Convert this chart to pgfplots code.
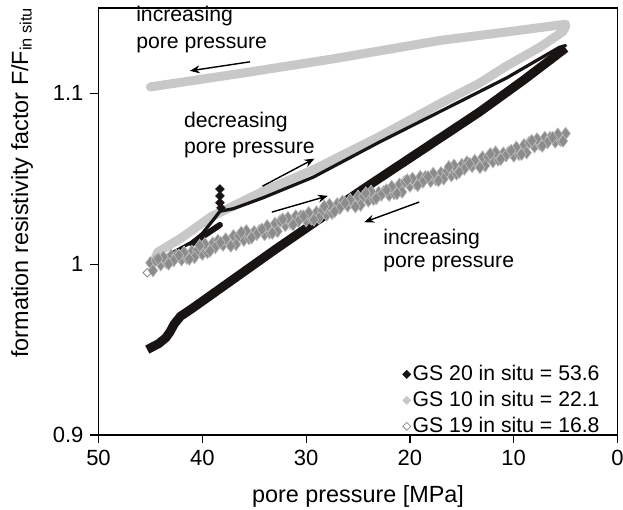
\documentclass[border=0pt]{standalone}
\usepackage{fontspec}
\setmainfont{Liberation Sans}
\usepackage{pgfplots}
\pgfplotsset{compat=1.18}
\usetikzlibrary{arrows.meta}
\definecolor{lgray}{RGB}{200,200,200}
\definecolor{mgray}{RGB}{140,140,140}
\definecolor{egray}{RGB}{190,190,190}
\definecolor{dblack}{RGB}{25,20,20}
\newcommand{\annfont}{\fontsize{10.6}{12}\selectfont}
\begin{document}
\begin{tikzpicture}
\begin{axis}[
  scale only axis, width=259.5pt, height=213.5pt,
  xmin=0, xmax=50, ymin=0.9, ymax=1.15, x dir=reverse,
  xtick={0,10,20,30,40,50}, ytick={0.9,1,1.1},
  yticklabels={0.9,1,1.1},
  tick pos=left, tick align=outside, major tick length=4pt,
  /pgf/number format/assume math mode=true,
  ticklabel style={font=\fontsize{11}{13}\selectfont},
  axis line style={line width=0.6pt},
  tick style={line width=0.6pt, black},
  xlabel={pore pressure [MPa]},
  ylabel={formation resistivity factor F/F\textsubscript{in situ}},
  label style={font=\fontsize{11.7}{14}\selectfont},
  xlabel style={at={(axis cs:25,0.9)}, anchor=base, yshift=-33.5pt},
  ylabel style={at={(axis cs:57.36,1.048)}, anchor=center},
  clip=false,
  legend cell align=left,
  legend image code/.code={\draw[#1] plot coordinates {(0.15cm,0cm)};},
  legend style={at={(axis cs:1.5,0.8983)}, anchor=south east, draw=none, fill=none,
    font=\annfont, row sep=1.8pt, inner sep=0pt, nodes={inner sep=1pt}},
]
\coordinate (bl) at (axis cs:50,0.9);
\coordinate (tr) at (axis cs:0,1.15);

% GS 10 (light gray)
\addplot[lgray, line width=4.5pt, line cap=round, line join=round, forget plot] coordinates {
(44.5,1.004) (44.3,1.007) (42.0,1.0155) (39.2,1.0276) (34.1,1.0428) (29.3,1.0553)
(23.0,1.0745) (17.1,1.094) (13.3,1.106) (10.7,1.116) (7.5,1.127) (5.3,1.136) (5.0,1.139)
(5.0,1.1405) (10.0,1.1365) (17.1,1.131) (27.4,1.1202) (36.0,1.112) (45.0,1.1038)
};

% GS 20 (black) lower branch
\addplot[dblack, line width=4.5pt, line join=round, forget plot] coordinates {
(45.3,0.950) (44.2,0.9535) (43.5,0.957) (43.1,0.9605) (42.7,0.965) (42.1,0.9695)
(41.0,0.974) (33.0,1.0085) (24.5,1.044) (13.3,1.0891) (9.0,1.108) (5.0,1.1265)
};
% GS 20 return branch
\addplot[dblack, line width=1.6pt, line join=round, line cap=round, forget plot] coordinates {
(5.0,1.128) (5.6,1.127) (10.7,1.109) (13.3,1.101) (22.9,1.0716) (29.3,1.051)
(34.1,1.039) (37.0,1.0325) (38.3,1.031) (38.8,1.027) (40.0,1.018) (41.0,1.013) (42.5,1.008) (44.0,1.003)
};
\addplot[dblack, line width=3pt, line cap=round, forget plot] coordinates {
(38.3,1.023) (41.0,1.012)
};
\addplot[only marks, mark=square*, mark size=1.5pt, mark options={rotate=45, dblack}, forget plot] coordinates {
(38.3,1.044) (38.3,1.040) (38.3,1.036) (38.2,1.033)
};

% GS 19 (open diamonds, dense band)
\addplot[only marks, mark=diamond*, mark size=3.2pt, mark options={draw=egray, fill=mgray, line width=0.3pt}, forget plot] coordinates {
(45,1.0008) (44,0.9997) (43,1.0051) (42,1.0026) (41,1.0075) (40,1.0059) (39,1.0123)
(38,1.0112) (37,1.0166) (36,1.0141) (35,1.0190) (34,1.0174) (33,1.0238) (32,1.0227)
(31,1.0282) (30,1.0256) (29,1.0305) (28,1.0289) (27,1.0353) (26,1.0342) (25,1.0397)
(24,1.0371) (23,1.0420) (22,1.0404) (21,1.0468) (20,1.0458) (19,1.0512) (18,1.0486)
(17,1.0535) (16,1.0519) (15,1.0583) (14,1.0573) (13,1.0627) (12,1.0601) (11,1.0650)
(10,1.0634) (9,1.0699) (8,1.0688) (7,1.0742) (6,1.0716) (5,1.0765)
(5.5,1.0726) (6.5,1.0741) (7.5,1.0703) (8.5,1.0713) (9.5,1.0644) (10.5,1.0655)
(11.5,1.0611) (12.5,1.0627) (13.5,1.0588) (14.5,1.0598) (15.5,1.0529) (16.5,1.0540)
(17.5,1.0496) (18.5,1.0512) (19.5,1.0473) (20.5,1.0483) (21.5,1.0414) (22.5,1.0425)
(23.5,1.0381) (24.5,1.0397) (25.5,1.0357) (26.5,1.0368) (27.5,1.0299) (28.5,1.0310)
(29.5,1.0266) (30.5,1.0282) (31.5,1.0242) (32.5,1.0253) (33.5,1.0184) (34.5,1.0195)
(35.5,1.0151) (36.5,1.0166) (37.5,1.0127) (38.5,1.0138) (39.5,1.0069) (40.5,1.0080)
(41.5,1.0036) (42.5,1.0051) (43.5,1.0012) (44.5,1.0023)
(44.75,0.9963) (43.75,1.0042) (42.75,1.0021) (41.75,1.0070) (40.75,1.0040) (39.75,1.0119)
(38.75,1.0098) (37.75,1.0147) (36.75,1.0116) (35.75,1.0195) (34.75,1.0175) (33.75,1.0224)
(32.75,1.0193) (31.75,1.0272) (30.75,1.0251) (29.75,1.0301) (28.75,1.0270) (27.75,1.0349)
(26.75,1.0328) (25.75,1.0377) (24.75,1.0346) (23.75,1.0426) (22.75,1.0405) (21.75,1.0454)
(20.75,1.0423) (19.75,1.0502) (18.75,1.0482) (17.75,1.0531) (16.75,1.0500) (15.75,1.0579)
(14.75,1.0558) (13.75,1.0607) (12.75,1.0577) (11.75,1.0656) (10.75,1.0635) (9.75,1.0684)
(8.75,1.0653) (7.75,1.0733) (6.75,1.0712) (5.75,1.0761)
(44.25,1.0032) (43.25,1.0002) (42.25,1.0051) (41.25,1.0030) (40.25,1.0109) (39.25,1.0078)
(38.25,1.0127) (37.25,1.0107) (36.25,1.0186) (35.25,1.0155) (34.25,1.0204) (33.25,1.0183)
(32.25,1.0263) (31.25,1.0232) (30.25,1.0281) (29.25,1.0260) (28.25,1.0339) (27.25,1.0309)
(26.25,1.0358) (25.25,1.0337) (24.25,1.0416) (23.25,1.0385) (22.25,1.0434) (21.25,1.0414)
(20.25,1.0493) (19.25,1.0462) (18.25,1.0511) (17.25,1.0490) (16.25,1.0570) (15.25,1.0539)
(14.25,1.0588) (13.25,1.0567) (12.25,1.0646) (11.25,1.0615) (10.25,1.0665) (9.25,1.0644)
(8.25,1.0723) (7.25,1.0692) (6.25,1.0741) (5.25,1.0721)
};
\addplot[only marks, mark=square, mark size=1.5pt, mark options={rotate=45, draw=mgray, fill=white, line width=0.5pt}, forget plot] coordinates {
(45.3,0.9950)
};

% legend
\addlegendimage{only marks, mark=square*, mark size=1.4pt, mark options={rotate=45, dblack}}
\addlegendentry{GS 20 in situ = 53.6}
\addlegendimage{only marks, mark=square*, mark size=1.4pt, mark options={rotate=45, lgray}}
\addlegendentry{GS 10 in situ = 22.1}
\addlegendimage{only marks, mark=square, mark size=1.4pt, mark options={rotate=45, draw=mgray, fill=white}}
\addlegendentry{GS 19 in situ = 16.8}

% annotations
\node[anchor=base west, font=\annfont, inner sep=0pt] at (axis cs:46.4,1.1419) {increasing};
\node[anchor=base west, font=\annfont, inner sep=0pt] at (axis cs:46.4,1.1261) {pore pressure};
\node[anchor=base west, font=\annfont, inner sep=0pt] at (axis cs:41.8,1.0798) {decreasing};
\node[anchor=base west, font=\annfont, inner sep=0pt] at (axis cs:41.8,1.0651) {pore pressure};
\node[anchor=base west, font=\annfont, inner sep=0pt] at (axis cs:22.6,1.0117) {increasing};
\node[anchor=base west, font=\annfont, inner sep=0pt] at (axis cs:22.6,0.9982) {pore pressure};

\draw[-{Stealth[length=5pt,width=4pt]}, line width=0.7pt] (axis cs:35.4,1.1185) -- (axis cs:41.2,1.1132);
\draw[-{Stealth[length=5pt,width=4pt]}, line width=0.7pt] (axis cs:34.2,1.0457) -- (axis cs:29.2,1.0618);
\draw[-{Stealth[length=5pt,width=4pt]}, line width=0.7pt] (axis cs:33.3,1.0305) -- (axis cs:27.9,1.0400);
\draw[-{Stealth[length=5pt,width=4pt]}, line width=0.7pt] (axis cs:19.1,1.0364) -- (axis cs:24.4,1.0246);
\end{axis}
\pgfresetboundingbox
\path[use as bounding box] ([shift={(-49.25pt,-37pt)}]bl) rectangle ([shift={(2.75pt,4pt)}]tr);
\end{tikzpicture}
\end{document}
